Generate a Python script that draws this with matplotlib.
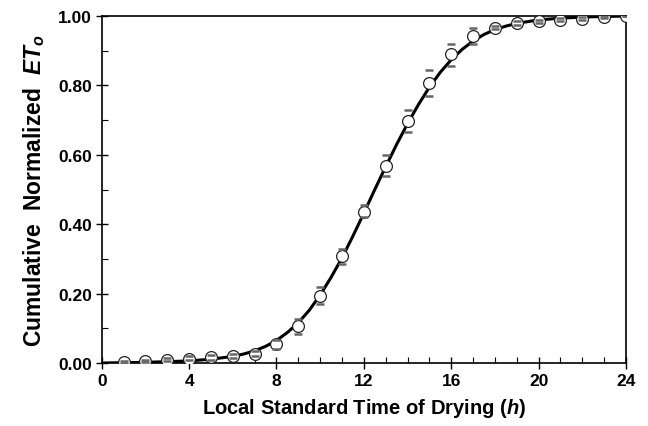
import matplotlib.pyplot as plt
from matplotlib.ticker import MultipleLocator, FormatStrFormatter

plt.rcParams['font.family'] = ['Liberation Sans', 'DejaVu Sans']
plt.rcParams['font.weight'] = 'bold'
plt.rcParams['mathtext.fontset'] = 'custom'
plt.rcParams['mathtext.it'] = 'Liberation Sans:style=italic:weight=bold'
plt.rcParams['mathtext.rm'] = 'Liberation Sans:weight=bold'

# Observed hourly values (mean) and spread
hours = list(range(1, 25))
mean_et = [0.003, 0.006, 0.009, 0.013, 0.016, 0.020, 0.027, 0.055, 0.107, 0.193,
           0.308, 0.435, 0.568, 0.697, 0.808, 0.892, 0.942, 0.967, 0.979, 0.985,
           0.990, 0.993, 0.997, 1.000]
upper_et = [0.006, 0.010, 0.014, 0.020, 0.022, 0.026, 0.034, 0.065, 0.128, 0.220,
            0.330, 0.455, 0.600, 0.730, 0.845, 0.920, 0.965, 0.972, 0.985, 0.990,
            0.994, 0.996, 0.999, 1.000]
lower_et = [0.001, 0.003, 0.005, 0.008, 0.010, 0.014, 0.020, 0.040, 0.085, 0.170,
            0.285, 0.420, 0.540, 0.665, 0.770, 0.855, 0.920, 0.962, 0.974, 0.980,
            0.987, 0.990, 0.995, 1.000]

# Fitted curve
fit_x = [0, 1, 2, 3, 4, 5, 6, 6.5, 7, 7.5, 8, 8.5, 9, 9.5, 10, 10.5, 11, 11.5, 12,
         12.5, 13, 13.5, 14, 14.5, 15, 15.5, 16, 16.5, 17, 17.5, 18, 18.5, 19, 20,
         21, 22, 23, 24]
fit_y = [0.000, 0.001, 0.002, 0.004, 0.006, 0.011, 0.019, 0.026, 0.035, 0.048,
         0.065, 0.088, 0.116, 0.152, 0.196, 0.247, 0.303, 0.366, 0.432, 0.500,
         0.566, 0.630, 0.690, 0.745, 0.795, 0.838, 0.874, 0.904, 0.928, 0.947,
         0.961, 0.971, 0.979, 0.989, 0.994, 0.997, 0.999, 1.000]

fig = plt.figure(figsize=(6.48, 4.27), dpi=100)
ax = fig.add_axes([0.157, 0.1475, 0.809, 0.8125])

ax.plot(fit_x, fit_y, color='black', lw=2.2, zorder=2)
ax.plot(hours, mean_et, 'o', ms=8.5, mfc='white', mec='#222222', mew=0.9, zorder=3)
ax.plot(hours, upper_et, '_', ms=6, mew=1.8, color='#666666', zorder=4)
ax.plot(hours, lower_et, '_', ms=6, mew=1.8, color='#666666', zorder=4)

ax.set_xlim(0, 24)
ax.set_ylim(0, 1.0)
ax.xaxis.set_major_locator(MultipleLocator(4))
ax.xaxis.set_minor_locator(MultipleLocator(1))
ax.yaxis.set_major_locator(MultipleLocator(0.2))
ax.yaxis.set_minor_locator(MultipleLocator(0.1))
ax.yaxis.set_major_formatter(FormatStrFormatter('%.2f'))
ax.tick_params(which='major', direction='inout', length=8, width=1, labelsize=12.5)
ax.tick_params(which='minor', direction='in', length=4, width=0.8)
ax.tick_params(axis='x', pad=3)
ax.tick_params(axis='y', pad=3)
for s in ax.spines.values():
    s.set_linewidth(1.2)

ax.set_xlabel('Local Standard Time of Drying ($\\mathit{h}$)', fontsize=14.5, fontweight='bold',
              labelpad=6)
ax.set_ylabel('Cumulative  Normalized  $\\mathit{ET}_\\mathit{o}$', fontsize=16.5,
              fontweight='bold', labelpad=8)

fig.savefig('out.png', dpi=100)
